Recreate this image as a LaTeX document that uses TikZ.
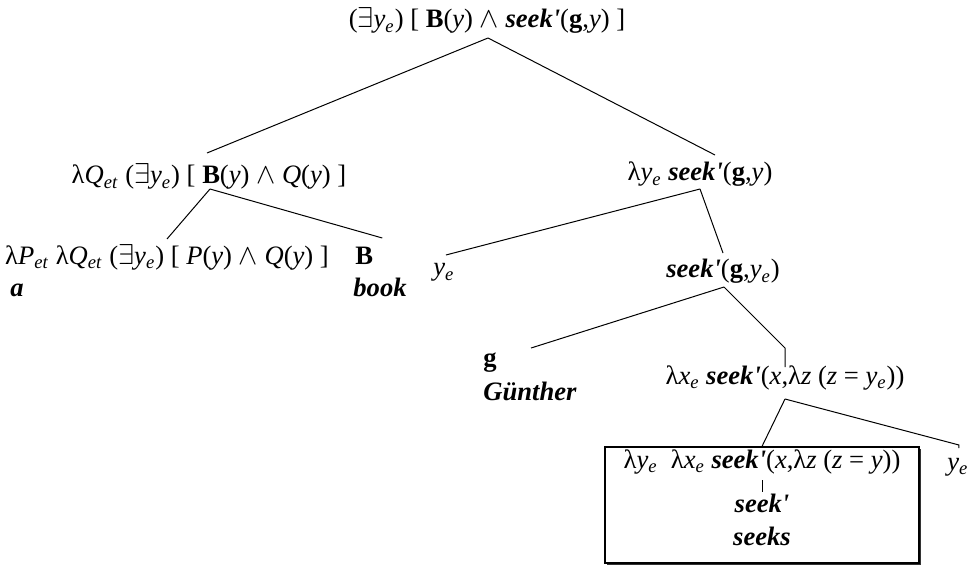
\documentclass[tikz,border=0pt]{standalone}
\usepackage{fontspec}
\setmainfont{Liberation Serif}
\usetikzlibrary{calc,shadows}
\newcommand{\vsub}[2]{\textit{#1}\textsubscript{\textit{#2}}}
\newcommand{\sk}{\textbf{\textit{seek\textquotesingle}}}
\newcommand{\ex}{$\exists$}
\newcommand{\conj}{$\wedge$}
\tikzset{
  term/.style={inner sep=0pt, anchor=base, font=\fontsize{13.3}{15}\selectfont},
  lterm/.style={term, anchor=base west},
  edge/.style={line width=0.5pt, black},
  frame/.style={draw, line width=0.6pt, fill=white, inner sep=0pt,
                drop shadow={shadow xshift=0.9pt, shadow yshift=-0.9pt, fill=black, opacity=0.8}},
}

\begin{document}
\begin{tikzpicture}[x=0.5pt, y=-0.5pt]
  \useasboundingbox (0,0) rectangle (967,566);

  %% lexical box
  \node[frame, minimum width=157pt, minimum height=58pt] (box) at (762,505) {};

  %% terms
  \node[term] (root) at (487,28) {(\ex\vsub{y}{e}) [ \textbf{B}(\textit{y}) \conj{} \sk(\textbf{g},\textit{y}) ]};
  \node[term] (qn) at (209,184) {λ\vsub{Q}{et} (\ex\vsub{y}{e}) [ \textbf{B}(\textit{y}) \conj{} \textit{Q}(\textit{y}) ]};
  \node[term] (pn) at (167,264) {λ\vsub{P}{et} λ\vsub{Q}{et} (\ex\vsub{y}{e}) [ \textit{P}(\textit{y}) \conj{} \textit{Q}(\textit{y}) ]};
  \node[lterm] (an) at (10,296) {\textbf{\textit{a}}};
  \node[lterm] (bn) at (355,264) {\textbf{B}};
  \node[lterm] (bookn) at (353,296) {\textbf{\textit{book}}};
  \node[term] (ly) at (700,181) {λ\vsub{y}{e} \sk(\textbf{g},\textit{y})};
  \node[lterm] (yl) at (433,276) {\vsub{y}{e}};
  \node[term] (sg) at (723,278) {\sk(\textbf{g},\vsub{y}{e})};
  \node[lterm] (gn) at (483,366) {\textbf{g}};
  \node[lterm] (gun) at (483,400) {\textbf{\textit{Günther}}};
  \node[term] (lx) at (785,384) {λ\vsub{x}{e} \sk(\textit{x},λ\textit{z} (\textit{z} = \vsub{y}{e}))};
  \node[term] (bl) at (762,468) {λ\vsub{y}{e}\ \ λ\vsub{x}{e} \sk(\textit{x},λ\textit{z} (\textit{z} = \textit{y}))};
  \node[term] (skn) at (762,512) {\sk};
  \node[term] (sks) at (762,545) {\textbf{\textit{seeks}}};
  \node[lterm] (yr) at (947,470) {\vsub{y}{e}};

  %% branches
  \draw[edge] ($(root.base)+(1,10)$) -- ($(qn.base)+(-2,-31)$);
  \draw[edge] ($(root.base)+(1,10)$) -- ($(ly.base)+(15,-26)$);
  \draw[edge] ($(qn.base)+(1,5)$) -- ($(pn.base)+(0,-25)$);
  \draw[edge] ($(qn.base)+(1,5)$) -- ($(bn.base)+(18,-26)$);
  \draw[edge] ($(ly.base)+(0,8)$) -- ($(yl.base)+(2,-21)$);
  \draw[edge] ($(ly.base)+(0,8)$) -- ($(sg.base)+(0,-25)$);
  \draw[edge] ($(sg.base)+(1,9)$) -- ($(gn.base)+(41,-18)$);
  \draw[edge] ($(sg.base)+(1,9)$) -- ($(lx.base)+(0,-36)$) -- ($(lx.base)+(0,-17)$);
  \draw[edge] ($(lx.base)+(0,15)$) -- (box.north);
  \draw[edge] ($(lx.base)+(0,15)$) -- ($(yr.base)+(1,-25)$) -- ($(yr.base)+(1,-22)$);
  \draw[edge] ($(skn.base)+(0,-32)$) -- ($(skn.base)+(0,-20)$);
\end{tikzpicture}
\end{document}
